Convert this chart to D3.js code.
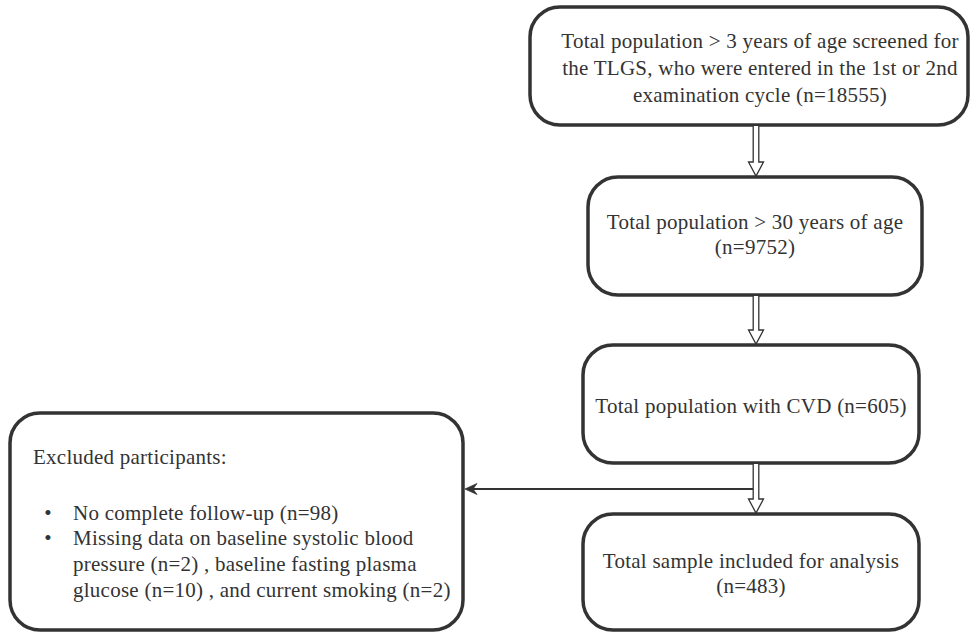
<!DOCTYPE html>
<html><head><meta charset="utf-8">
<script src="https://cdn.jsdelivr.net/npm/d3@7/dist/d3.min.js"></script>
<style>body{margin:0;background:#fff}svg{display:block}</style>
</head><body><svg id="c" width="971" height="632"></svg>
<script>
// ---- data ----
const mainSteps = [
  ["Total population > 3 years of age screened for", "the TLGS, who were entered in the 1st or 2nd", "examination cycle (n=18555)"],
  ["Total population > 30 years of age", "(n=9752)"],
  ["Total population with CVD (n=605)"],
  ["Total sample included for analysis", "(n=483)"]
];
const excludedTitle = "Excluded participants:";
const excludedItems = [
  ["No complete follow-up (n=98)"],
  ["Missing data on baseline systolic blood", "pressure (n=2) , baseline fasting plasma", "glucose (n=10) , and current smoking (n=2)"]
];

// ---- layout ----
const layout = [
  {x0:530, x1:968, y0:7, y1:125, tx:760, base:48.3, lh:26.7},
  {x0:588, x1:922, y0:177, y1:295, tx:755, base:229, lh:24.5},
  {x0:583, x1:919, y0:345, y1:463, tx:751, base:413, lh:26},
  {x0:583, x1:919, y0:514, y1:630, tx:751, base:567.5, lh:25.5}
];
const exBox = {x0:10, x1:463, y0:413, y1:630};
const arrowX = 756;
const font = "'Liberation Serif','Times New Roman',serif";
const fs = 21;
const ls = 0.25;
const ink = "#333";

const svg = d3.select("#c");
const g = svg.append("g");

function txt(x, y, t, anchor) {
  return g.append("text").attr("x", x).attr("y", y)
    .attr("text-anchor", anchor || "start")
    .attr("font-family", font).attr("font-size", fs).attr("fill", ink)
    .attr("letter-spacing", ls)
    .text(t);
}

// main boxes
mainSteps.forEach((lines, i) => {
  const b = layout[i];
  g.append("rect").attr("x", b.x0).attr("y", b.y0)
    .attr("width", b.x1 - b.x0).attr("height", b.y1 - b.y0)
    .attr("rx", 30).attr("ry", 30)
    .attr("fill", "#fff").attr("stroke", ink).attr("stroke-width", 3.5);
  lines.forEach((t, j) => txt(b.tx, b.base + j * b.lh, t, "middle"));
});

// excluded box
g.append("rect").attr("x", exBox.x0).attr("y", exBox.y0)
  .attr("width", exBox.x1 - exBox.x0).attr("height", exBox.y1 - exBox.y0)
  .attr("rx", 30).attr("ry", 30)
  .attr("fill", "#fff").attr("stroke", ink).attr("stroke-width", 3.5);
txt(33, 463.5, excludedTitle);
let yy = 519.5;
const exLH = 25.7;
excludedItems.forEach(lines => {
  txt(48, yy, "•", "middle");
  lines.forEach(t => { txt(73, yy, t); yy += exLH; });
});

// horizontal connector with barbed arrowhead
const hy = 489;
const tip = exBox.x1 + 2;
g.append("line").attr("x1", arrowX).attr("x2", tip + 6).attr("y1", hy).attr("y2", hy)
  .attr("stroke", ink).attr("stroke-width", 1.8);
g.append("path")
  .attr("d", `M${tip},${hy} L${tip + 12},${hy - 5.5} L${tip + 8},${hy} L${tip + 12},${hy + 5.5} Z`)
  .attr("fill", ink).attr("stroke", ink).attr("stroke-width", 0.8).attr("stroke-linejoin", "round");

// double (hollow) arrows between main boxes
for (let i = 0; i < layout.length - 1; i++) {
  const y1 = layout[i].y1 + 1, y2 = layout[i + 1].y0 - 1;
  const yh = y2 - 14, x = arrowX;
  g.append("path")
    .attr("d", `M${x - 2.8},${y1} L${x - 2.8},${yh} L${x - 7.5},${yh} L${x},${y2} L${x + 7.5},${yh} L${x + 2.8},${yh} L${x + 2.8},${y1}`)
    .attr("fill", "#fff").attr("stroke", ink).attr("stroke-width", 1.3);
}
</script></body></html>
